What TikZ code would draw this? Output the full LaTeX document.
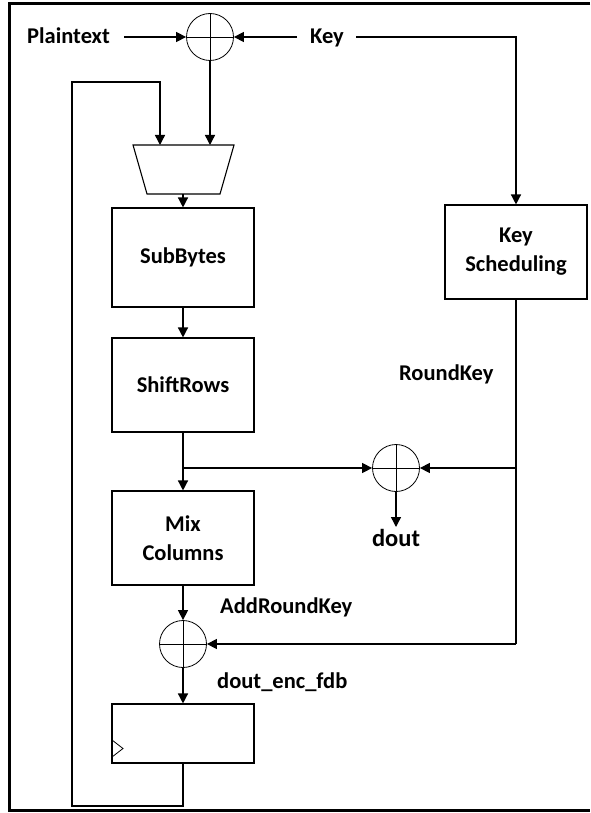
\documentclass[tikz,border=0pt]{standalone}
\usepackage{fontspec}
\setmainfont{Carlito}
\usetikzlibrary{arrows.meta}
\begin{document}
\begin{tikzpicture}[x=1pt,y=-1pt,
  conn/.style={line width=1.4pt,-{Triangle[length=10pt,width=10pt]}},
  wire/.style={line width=1.4pt},
  blk/.style={draw,line width=1.1pt,minimum width=142pt,inner sep=0pt,align=center,font=\fontsize{22.5}{29}\selectfont\bfseries},
  xorn/.style={draw,circle,line width=0.8pt,minimum size=47pt,inner sep=0pt},
  lbl/.style={inner sep=0pt,font=\fontsize{22.5}{27}\selectfont\bfseries}]
\useasboundingbox (0,0) rectangle (590,813);
% frame
\draw[line width=3.5pt] (590,3.5) -- (9.5,3.5) -- (9.5,810.5) -- (590,810.5);
% nodes
\node[xorn] (x1) at (210,37) {};
\node[xorn] (x2) at (396,468) {};
\node[xorn] (x3) at (183,644) {};
\foreach \n in {x1,x2,x3}{
  \draw[line width=0.8pt] (\n.north) -- (\n.south) (\n.west) -- (\n.east);}
\node[lbl,anchor=base west] (pt) at (27,44) {Plaintext};
\node[lbl,anchor=base west] (key) at (310,44) {Key};
\node[blk,minimum height=99pt] (sb) at (183,257.5) {SubBytes};
\node[blk,minimum height=94pt] (sr) at (183,385) {ShiftRows};
\node[blk,minimum height=94pt] (mc) at (183,538) {Mix\\Columns};
\node[blk,minimum height=59pt] (reg) at (183,733.5) {};
\node[blk,minimum height=94pt] (ks) at (516,252) {Key\\Scheduling};
\node[lbl,anchor=base west] (rk) at (399,380) {RoundKey};
\node[lbl,anchor=base west] (ark) at (220,613) {AddRoundKey};
\node[lbl,anchor=base west] (def) at (217,688) {dout\_enc\_fdb};
\node[inner sep=0pt,font=\fontsize{24.5}{29}\selectfont\bfseries,anchor=base] (dout) at (396,546) {dout};
% mux
\coordinate (muxA) at (160,145);
\coordinate (muxB) at (210,145);
\coordinate (muxO) at (183,194);
\draw[line width=1.1pt] (133,145) -- (234,145) -- (220,194) -- (147,194) -- cycle;
% clock triangle
\draw[line width=0.8pt] (112,740) -- (123,748.5) -- (112,757);
% connectors
\draw[conn] (124,37) -- (x1.west);
\draw[conn] (297,37) -- (x1.east);
\draw[conn] (356,37) -| (ks.north);
\draw[conn] (x1.south) -- (muxB);
\draw[conn] (reg.south) -- (183,806) -- (72,806) -- (72,82) -| (muxA);
\draw[conn] (muxO) -- (sb.north);
\draw[conn] (sb.south) -- (sr.north);
\draw[conn] (sr.south) -- (mc.north);
\draw[conn] (183,468) -- (x2.west);
\draw[wire] (ks.south) -- (516,644);
\draw[conn] (516,468) -- (x2.east);
\draw[conn] (516,644) -- (x3.east);
\draw[conn] (x2.south) -- (396,527);
\draw[conn] (mc.south) -- (x3.north);
\draw[conn] (x3.south) -- (reg.north);
\end{tikzpicture}
\end{document}
